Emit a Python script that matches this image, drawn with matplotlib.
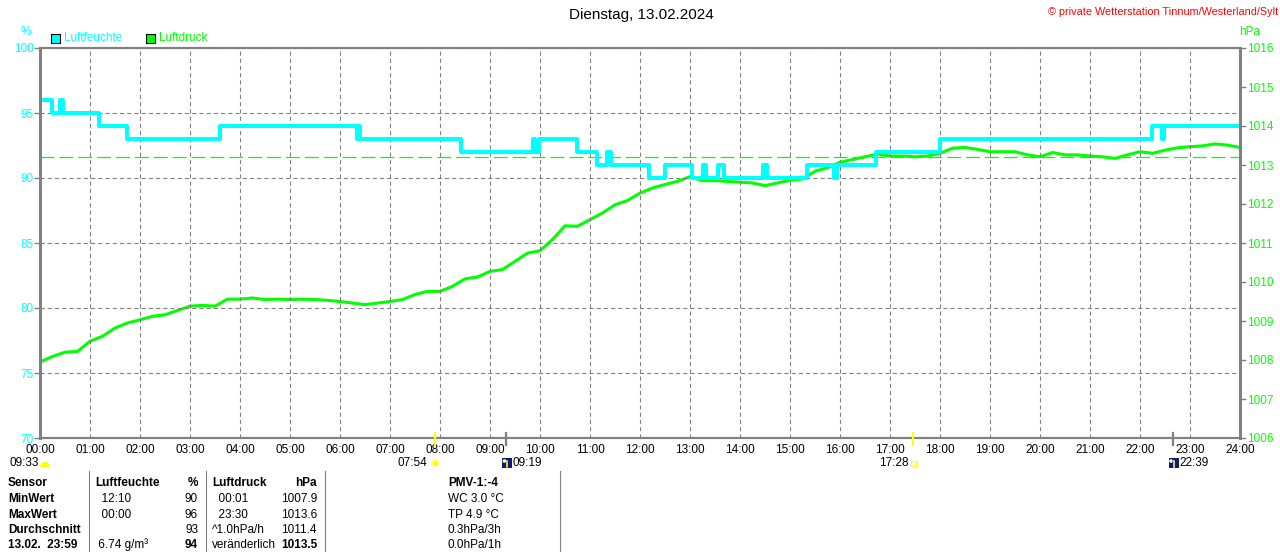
import matplotlib
matplotlib.use("Agg")
import matplotlib.pyplot as plt
from matplotlib.patches import Rectangle, Wedge, Circle

plt.rcParams['font.family'] = ['Liberation Sans', 'DejaVu Sans']
plt.rcParams['lines.scale_dashes'] = False

# --- data ---------------------------------------------------------------
# humidity (%), step changes: hour of change and new value
hum_t = [0.00, 0.23, 0.40, 0.45, 1.17, 1.73, 3.59, 6.33, 6.37, 6.40, 8.41, 9.85,
         9.90, 9.97, 10.73, 11.13, 11.33, 11.41, 12.17, 12.50, 13.03, 13.25,
         13.31, 13.55, 13.67, 14.45, 14.53, 15.33, 15.87, 15.93, 16.72, 18.00,
         22.23, 22.43, 22.47, 24.00]
hum_v = [96, 95, 96, 95, 94, 93, 94, 93, 94, 93, 92, 93,
         92, 93, 92, 91, 92, 91, 90, 91, 90, 91,
         90, 91, 90, 91, 90, 91, 90, 91, 92, 93,
         94, 93, 94, 94]

# air pressure (hPa), every 15 minutes
p_t = [i * 0.25 for i in range(97)]
p_v = [1007.95, 1008.09, 1008.20, 1008.22, 1008.48, 1008.61, 1008.82, 1008.95,
       1009.03, 1009.12, 1009.16, 1009.27, 1009.38, 1009.40, 1009.38, 1009.56,
       1009.56, 1009.59, 1009.55, 1009.56, 1009.55, 1009.56, 1009.55, 1009.53,
       1009.50, 1009.46, 1009.42, 1009.46, 1009.50, 1009.55, 1009.68, 1009.76,
       1009.76, 1009.89, 1010.08, 1010.13, 1010.27, 1010.32, 1010.53, 1010.74,
       1010.80, 1011.09, 1011.44, 1011.43, 1011.60, 1011.77, 1011.98, 1012.09,
       1012.28, 1012.41, 1012.50, 1012.58, 1012.70, 1012.60, 1012.60, 1012.58,
       1012.56, 1012.54, 1012.47, 1012.54, 1012.61, 1012.64, 1012.84, 1012.93,
       1013.07, 1013.14, 1013.21, 1013.28, 1013.23, 1013.23, 1013.21, 1013.23,
       1013.30, 1013.43, 1013.45, 1013.40, 1013.34, 1013.34, 1013.34, 1013.26,
       1013.21, 1013.32, 1013.26, 1013.26, 1013.23, 1013.21, 1013.17, 1013.26,
       1013.34, 1013.30, 1013.38, 1013.44, 1013.47, 1013.49, 1013.54, 1013.51,
       1013.45]
p_ref = 1013.2

hours = list(range(25))
hour_labels = [f"{h:02d}:00" for h in hours]
hum_ticks = list(range(70, 101, 5))
p_ticks = list(range(1006, 1017))

# sunrise / sunset / moonrise / moonset
sun_events = [(7 + 54 / 60, "07:54"), (17 + 28 / 60, "17:28")]
moon_events = [(9 + 19 / 60, "09:19"), (22 + 39 / 60, "22:39")]

table_rows = [
    ["Sensor", "Luftfeuchte", "%", "Luftdruck", "hPa", "PMV-1:-4"],
    ["MinWert", "  12:10", "90", "  00:01", "1007.9", "WC 3.0 °C"],
    ["MaxWert", "  00:00", "96", "  23:30", "1013.6", "TP 4.9 °C"],
    ["Durchschnitt", "", "93", "^1.0hPa/h", "1011.4", "0.3hPa/3h"],
    ["13.02.  23:59", " 6.74 g/m³", "94", "veränderlich", "1013.5", "0.0hPa/1h"],
]

# --- style --------------------------------------------------------------
W, H = 1280, 552
GREY = '#808080'
CYAN = '#00ffff'
GREEN = '#00ff00'
FS = 8.5

fig = plt.figure(figsize=(W / 100, H / 100), dpi=100)
fig.patch.set_facecolor('white')
ax = fig.add_axes([40 / W, (H - 438) / H, 1200 / W, 390 / H])
ax2 = ax.twinx()

ax.set_xlim(0, 24)
ax.set_ylim(70, 100)
ax2.set_ylim(1006, 1016)

ax.set_xticks(hours)
ax.set_xticklabels(hour_labels)
ax.set_yticks(hum_ticks)
ax2.set_yticks(p_ticks)

ax.grid(True, color=GREY, lw=0.8, linestyle=(0, (3, 2.2)))
ax.tick_params(axis='x', length=0, pad=4, labelsize=FS, labelcolor='black')
ax.tick_params(axis='y', length=4, width=1, color=GREY, pad=0.5,
               labelsize=FS, labelcolor=CYAN)
ax2.tick_params(axis='y', length=4, width=1, color=GREY, pad=1,
                labelsize=FS, labelcolor=GREEN)

for a in (ax, ax2):
    for s in a.spines.values():
        s.set_color(GREY)
        s.set_linewidth(1.5)
    a.spines['left'].set_linewidth(2)
    a.spines['right'].set_linewidth(2)

# pressure (right axis) below humidity
ax2.set_zorder(1)
ax.set_zorder(2)
ax.patch.set_visible(False)

ax2.plot(p_t, p_v, color=GREEN, lw=2.2, solid_joinstyle='miter')
ax2.axhline(p_ref, color=GREEN, lw=0.9, linestyle=(0, (10, 3.6)))
ax.plot(hum_t, hum_v, color=CYAN, lw=2.9, drawstyle='steps-post')

# sun / moon markers on the time axis
xt = ax.get_xaxis_transform()
for t, _ in sun_events:
    ax.plot([t, t], [0.014, -0.018], color='#ffff00', lw=1.5, transform=xt,
            clip_on=False, zorder=5)
for t, _ in moon_events:
    ax.plot([t, t], [0.014, -0.018], color=GREY, lw=1.6, transform=xt,
            clip_on=False, zorder=5)

# --- overlay in pixel coordinates --------------------------------------
ov = fig.add_axes([0, 0, 1, 1], zorder=10)
ov.set_xlim(0, W)
ov.set_ylim(H, 0)
ov.axis('off')
ov.patch.set_visible(False)

ov.text(641, 15, "Dienstag, 13.02.2024", ha='center', va='center', fontsize=11)
ov.text(1278, 12, "© private Wetterstation Tinnum/Westerland/Sylt", ha='right',
        va='center', fontsize=7.8, color='#ff0000')
ov.text(26, 32, "%", ha='center', va='center', fontsize=FS, color=CYAN)
ov.text(1250, 32, "hPa", ha='center', va='center', fontsize=FS, color=GREEN)

ov.add_patch(Rectangle((50.5, 33.5), 9, 9, facecolor=CYAN, edgecolor='black', lw=0.8))
ov.text(64, 38, "Luftfeuchte", ha='left', va='center', fontsize=FS, color=CYAN)
ov.add_patch(Rectangle((145.5, 33.5), 9, 9, facecolor=GREEN, edgecolor='black', lw=0.8))
ov.text(159, 38, "Luftdruck", ha='left', va='center', fontsize=FS, color=GREEN)


def xpix(t):
    return ax.transData.transform((t, 0))[0]


# daylight duration at the left
ov.text(9, 463, "09:33", ha='left', va='center', fontsize=FS)
ov.add_patch(Wedge((45, 467), 5, 180, 360, facecolor='#ffff00', edgecolor='none'))

# sunrise
x = xpix(sun_events[0][0])
ov.text(x - 8, 463, sun_events[0][1], ha='right', va='center', fontsize=FS)
ov.add_patch(Circle((x, 463), 3.2, facecolor='#ffff00', edgecolor='#ffff80', lw=1.2))
# sunset
x = xpix(sun_events[1][0])
ov.text(x - 5, 463, sun_events[1][1], ha='right', va='center', fontsize=FS)
ov.add_patch(Rectangle((x - 2.5, 461), 5, 5, facecolor='none', edgecolor='#ffff00', lw=0.8))
# moonrise / moonset
for t, lab in moon_events:
    x = xpix(t)
    ov.add_patch(Rectangle((x - 4, 458), 10, 10, facecolor='#101880', edgecolor='none'))
    ov.add_patch(Circle((x - 1.5, 461), 1.8, facecolor='white', edgecolor='none'))
    ov.plot([x + 1.5, x + 1.5], [461, 467], color='#ffff00', lw=1.2)
    ov.text(x + 7, 463, lab, ha='left', va='center', fontsize=FS)

# summary table
for xs in (88.5, 206, 324.5, 560):
    ov.plot([xs, xs], [471, H], color=GREY, lw=0.8)

row_y = [483.5, 499, 514.5, 530, 545]
col_x = [8, 95, 198, 212, 317, 448]
col_ha = ['left', 'left', 'right', 'left', 'right', 'left']
for r, (y, row) in enumerate(zip(row_y, table_rows)):
    for c, txt in enumerate(row):
        bold = (r == 0) or (c == 0) or (r == 4 and c in (2, 4))
        ov.text(col_x[c], y, txt, ha=col_ha[c], va='center', fontsize=FS,
                fontweight='bold' if bold else 'normal')

fig.savefig("out.png", dpi=100)
